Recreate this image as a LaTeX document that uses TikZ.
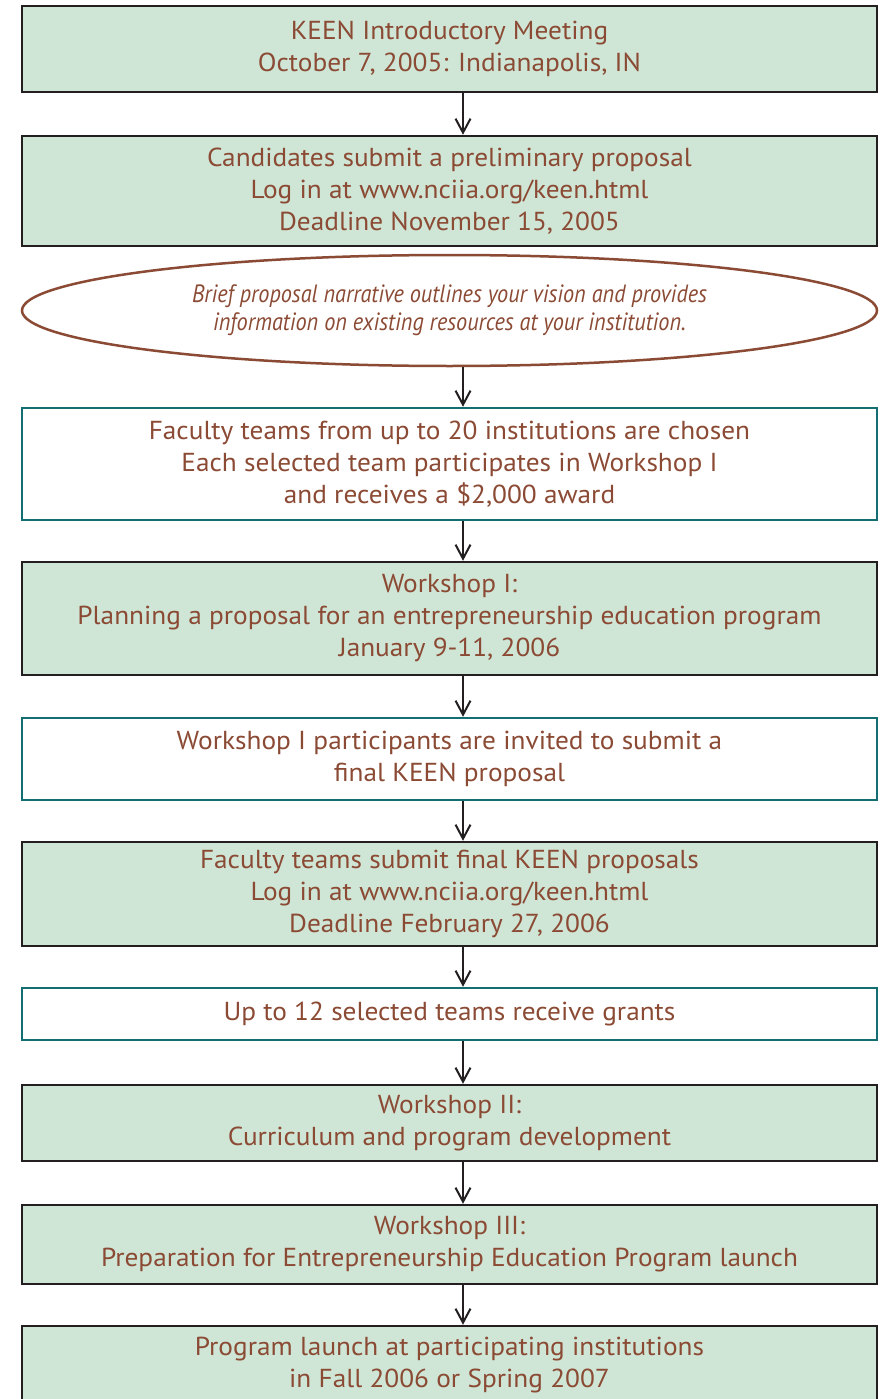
\documentclass[tikz,border=0pt]{standalone}
\usepackage{fontspec}
\setmainfont{PT Sans}[FakeStretch=1.05]
\newfontfamily\narrowfam{PT Sans}[FakeStretch=0.89]
\usetikzlibrary{arrows.meta,shapes.geometric}
\definecolor{boxgreen}{RGB}{207,230,214}
\definecolor{txtbrown}{RGB}{139,74,52}
\definecolor{tealb}{RGB}{18,110,112}
\definecolor{darkline}{RGB}{35,31,32}
\tikzset{
  basebox/.style={rectangle, minimum width=855pt, inner sep=0pt, line width=2.5pt,
    align=center, text=txtbrown, font=\fontsize{26}{32}\selectfont},
  greenbox/.style={basebox, draw=darkline, fill=boxgreen},
  whitebox/.style={basebox, draw=tealb, fill=white},
  ovalbox/.style={ellipse, minimum width=855pt, inner sep=0pt, line width=2.5pt, draw=txtbrown,
    align=center, text=txtbrown, font=\narrowfam\itshape\fontsize{25}{28}\selectfont},
  flowarrow/.style={draw=darkline, line width=2pt, -{Straight Barb[length=14pt,width=15pt,line width=2pt]}}
}
\begin{document}
\begin{tikzpicture}[x=1pt,y=-1pt]
\useasboundingbox (0,0) rectangle (890,1399);
\node[greenbox, minimum height=86pt] (b1) at (449.5,49) {KEEN Introductory Meeting\\October 7, 2005: Indianapolis, IN};
\node[greenbox, minimum height=110pt] (b2) at (449.5,191) {Candidates submit a preliminary proposal\\Log in at www.nciia.org/keen.html\\Deadline November 15, 2005};
\node[ovalbox, minimum height=111pt] (e3) at (449.5,310.5) {Brief proposal narrative outlines your vision and provides\\information on existing resources at your institution.};
\node[whitebox, minimum height=112pt] (b4) at (449.5,464) {Faculty teams from up to 20 institutions are chosen\\Each selected team participates in Workshop I\\and receives a \$2,000 award};
\node[greenbox, minimum height=113pt] (b5) at (449.5,618.5) {Workshop I:\\Planning a proposal for an entrepreneurship education program\\January 9-11, 2006};
\node[whitebox, minimum height=82pt] (b6) at (449.5,759) {Workshop I participants are invited to submit a\\final KEEN proposal};
\node[greenbox, minimum height=104pt] (b7) at (449.5,894) {Faculty teams submit final KEEN proposals\\Log in at www.nciia.org/keen.html\\Deadline February 27, 2006};
\node[whitebox, minimum height=52pt] (b8) at (449.5,1014) {Up to 12 selected teams receive grants};
\node[greenbox, minimum height=76pt] (b9) at (449.5,1123) {Workshop II:\\Curriculum and program development};
\node[greenbox, minimum height=79pt] (b10) at (449.5,1244.5) {Workshop III:\\Preparation for Entrepreneurship Education Program launch};
\node[greenbox, minimum height=78pt] (b11) at (449.5,1365) {Program launch at participating institutions\\in Fall 2006 or Spring 2007};
\coordinate (ax) at (463,0);
\draw[flowarrow] (b1.south -| ax) -- (b2.north -| ax);
\draw[flowarrow] (e3.south -| ax) -- (b4.north -| ax);
\draw[flowarrow] (b4.south -| ax) -- (b5.north -| ax);
\draw[flowarrow] (b5.south -| ax) -- (b6.north -| ax);
\draw[flowarrow] (b6.south -| ax) -- (b7.north -| ax);
\draw[flowarrow] (b7.south -| ax) -- (b8.north -| ax);
\draw[flowarrow] (b8.south -| ax) -- (b9.north -| ax);
\draw[flowarrow] (b9.south -| ax) -- (b10.north -| ax);
\draw[flowarrow] (b10.south -| ax) -- (b11.north -| ax);
\end{tikzpicture}
\end{document}
